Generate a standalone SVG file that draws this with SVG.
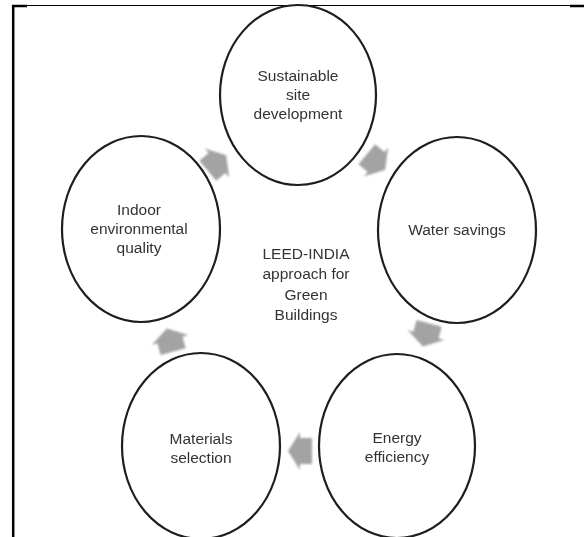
<svg xmlns="http://www.w3.org/2000/svg" width="584" height="537" viewBox="0 0 584 537">
  <style>
    .node ellipse { fill: #ffffff; stroke: #1e1e1e; stroke-width: 2.2; }
    .label { font-family: "Liberation Sans", Arial, sans-serif; font-size: 15.5px; fill: #333333; text-anchor: middle; }
    .arrow { fill: #a3a3a3; }
    .frame { stroke: #000000; fill: none; }
  </style>
  <defs>
    <!-- block arrow pointing along +x, centred on the origin -->
    <polygon id="blockArrow" points="-12,-13 0,-13 0,-19 12,0 0,19 0,13 -12,13"/>
    <filter id="soft" x="-30%" y="-30%" width="160%" height="160%">
      <feGaussianBlur stdDeviation="0.8"/>
    </filter>
  </defs>

  <rect width="584" height="537" fill="#ffffff"/>

  <!-- page frame -->
  <g id="frame">
    <line class="frame" x1="12" y1="5.5" x2="584" y2="5.5" stroke-width="1.2"/>
    <line class="frame" x1="12" y1="6" x2="27" y2="6" stroke-width="2.5"/>
    <line class="frame" x1="570" y1="6" x2="584" y2="6" stroke-width="2.5"/>
    <line class="frame" x1="13.2" y1="5" x2="13.2" y2="537" stroke-width="2.5"/>
  </g>

  <!-- cycle arrows -->
  <g id="connectors" class="arrow" filter="url(#soft)">
    <use href="#blockArrow" transform="translate(376,162) rotate(40)"/>
    <use href="#blockArrow" transform="translate(426,335) rotate(105)"/>
    <use href="#blockArrow" transform="translate(300,451) rotate(180)"/>
    <use href="#blockArrow" transform="translate(170,340) rotate(-105)"/>
    <use href="#blockArrow" transform="translate(217,163) rotate(-40)"/>
  </g>

  <g id="node-site" class="node">
    <ellipse cx="298" cy="95" rx="78" ry="90"/>
    <text class="label" x="298" y="81">Sustainable</text>
    <text class="label" x="298" y="100">site</text>
    <text class="label" x="298" y="119">development</text>
  </g>

  <g id="node-water" class="node">
    <ellipse cx="457" cy="230" rx="79" ry="93"/>
    <text class="label" x="457" y="235">Water savings</text>
  </g>

  <g id="node-energy" class="node">
    <ellipse cx="397" cy="446" rx="78" ry="92"/>
    <text class="label" x="397" y="443">Energy</text>
    <text class="label" x="397" y="462">efficiency</text>
  </g>

  <g id="node-materials" class="node">
    <ellipse cx="201" cy="446" rx="79" ry="93"/>
    <text class="label" x="201" y="444">Materials</text>
    <text class="label" x="201" y="463">selection</text>
  </g>

  <g id="node-indoor" class="node">
    <ellipse cx="141" cy="229" rx="79" ry="93"/>
    <text class="label" x="139" y="215">Indoor</text>
    <text class="label" x="139" y="234">environmental</text>
    <text class="label" x="139" y="253">quality</text>
  </g>

  <g id="center-title">
    <text class="label" x="306" y="259">LEED-INDIA</text>
    <text class="label" x="306" y="279">approach for</text>
    <text class="label" x="306" y="300">Green</text>
    <text class="label" x="306" y="320">Buildings</text>
  </g>
</svg>
